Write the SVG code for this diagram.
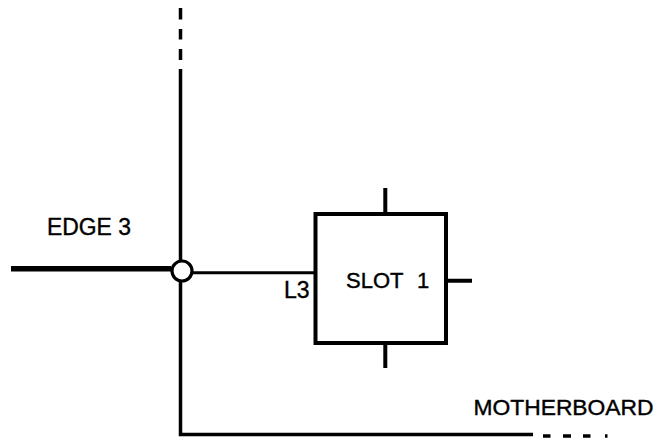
<svg xmlns="http://www.w3.org/2000/svg" width="659" height="441" viewBox="0 0 659 441">
<style>
.ln{stroke:#000;fill:none;stroke-linecap:butt}
.t{font-family:"Liberation Sans",Arial,sans-serif;fill:#000;stroke:#000;stroke-width:0.4}
</style>
<rect width="659" height="441" fill="#fff"/>
<g id="connectors">
<path class="ln" stroke-width="3.5" d="M180.5 8V19.5M180.5 29V39.5M180.5 49V60M180.5 69V434.5H533"/>
<path class="ln" stroke-width="3.5" d="M543 436H550.5M563 436H571M583 436H590.5M605 436H607.5"/>
<path class="ln" stroke-width="5.5" d="M11 268.7H171"/>
<path class="ln" stroke-width="3" d="M192 272.8H315"/>
</g>
<g id="junction">
<circle cx="182" cy="271" r="10" fill="#fff" stroke="#000" stroke-width="3.2"/>
</g>
<g id="slot1">
<rect x="315.5" y="214" width="130.5" height="129" fill="#fff" stroke="#000" stroke-width="4"/>
<path class="ln" stroke-width="4" d="M385.3 188V214M385.3 343V368M446 280.7H472"/>
<text class="t" x="346" y="288" font-size="22">SLOT</text>
<text class="t" x="417" y="288" font-size="22">1</text>
<text class="t" x="284" y="298" font-size="23">L3</text>
</g>
<g id="edge3">
<text class="t" x="47" y="235" font-size="23" textLength="84" lengthAdjust="spacingAndGlyphs">EDGE 3</text>
</g>
<g id="motherboard">
<text class="t" x="473.5" y="415" font-size="22" textLength="180" lengthAdjust="spacingAndGlyphs">MOTHERBOARD</text>
</g>
</svg>
